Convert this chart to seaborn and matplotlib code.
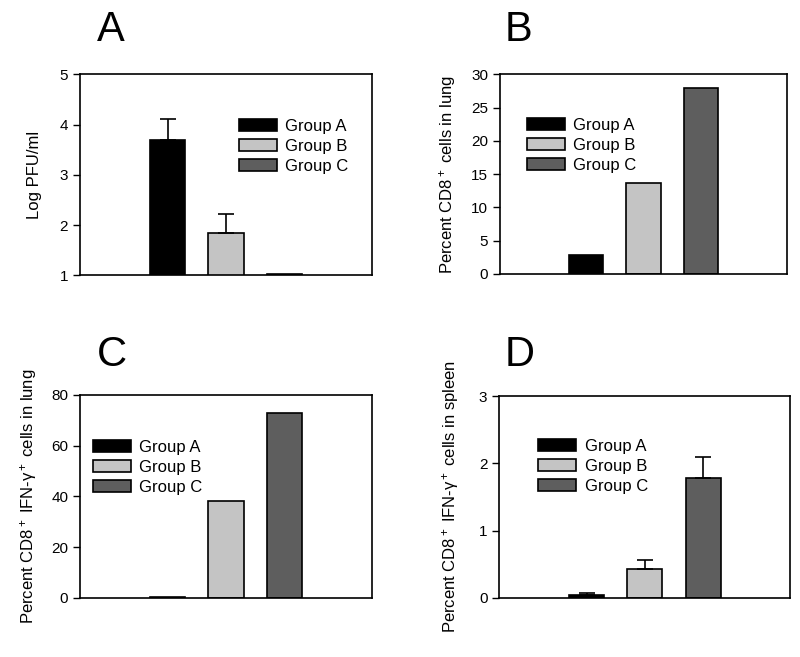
import matplotlib
matplotlib.use("Agg")
import matplotlib.pyplot as plt
import seaborn as sns
import pandas as pd

groups = ["Group A", "Group B", "Group C"]
colors = ["#000000", "#c4c4c4", "#5e5e5e"]

pfu = [3.7, 1.85, 1.02]
pfu_err = [0.4, 0.37, 0.0]

cd8_lung = [2.8, 13.6, 28.0]

ifn_lung = [0.5, 38.0, 73.0]

ifn_spleen = [0.05, 0.43, 1.78]
ifn_spleen_err = [0.02, 0.14, 0.32]

sns.set_style("white")
plt.rcParams['font.family'] = ['Liberation Sans', 'DejaVu Sans']
plt.rcParams['mathtext.fontset'] = 'custom'
plt.rcParams['mathtext.rm'] = 'Liberation Sans'
plt.rcParams['mathtext.it'] = 'Liberation Sans'
for k in ['text.color', 'axes.labelcolor', 'xtick.color', 'ytick.color']:
    plt.rcParams[k] = 'black'

fig = plt.figure(figsize=(8, 6.57), dpi=100)

panels = [
    # letter, axes rect, values, errors, ylim, yticks, ylabel, label x, legend anchor, letter pos
    ("A", [0.100, 0.581, 0.365, 0.306], pfu, pfu_err, (1, 5), [1, 2, 3, 4, 5],
     "Log PFU/ml", -0.13, (0.52, 0.81), (0.138, 0.955)),
    ("B", [0.625, 0.583, 0.359, 0.304], cd8_lung, None, (0, 30), [0, 5, 10, 15, 20, 25, 30],
     "Percent CD8$^+$ cells in lung", -0.145, (0.07, 0.815), (0.648, 0.955)),
    ("C", [0.100, 0.090, 0.365, 0.309], ifn_lung, None, (0, 80), [0, 20, 40, 60, 80],
     "Percent CD8$^+$ IFN-γ$^+$ cells in lung", -0.14, (0.02, 0.81), (0.140, 0.460)),
    ("D", [0.624, 0.090, 0.364, 0.307], ifn_spleen, ifn_spleen_err, (0, 3), [0, 1, 2, 3],
     "Percent CD8$^+$ IFN-γ$^+$ cells in spleen", -0.13, (0.11, 0.82), (0.650, 0.460)),
]

for letter, rect, vals, errs, ylim, yticks, ylabel, lx, anchor, lpos in panels:
    ax = fig.add_axes(rect)
    df = pd.DataFrame({"group": groups, "value": vals})
    sns.barplot(data=df, x="group", y="value", hue="group", palette=colors,
                width=0.6, edgecolor="black", linewidth=1.2, ax=ax, legend=True)
    if errs is not None:
        for i, (v, e) in enumerate(zip(vals, errs)):
            if e > 0:
                ax.errorbar(i, v, yerr=[[0], [e]], fmt="none", ecolor="black",
                            elinewidth=1.2, capsize=6, capthick=1.2)
    ax.set_xlim(-1.5, 3.5)
    ax.set_ylim(*ylim)
    ax.set_yticks(yticks)
    ax.set_xticks([])
    ax.set_xlabel("")
    ax.set_ylabel(ylabel, fontsize=12)
    ax.yaxis.set_label_coords(lx, 0.5)
    ax.tick_params(axis="y", direction="out", length=5, width=1, labelsize=11, left=True)
    for s in ax.spines.values():
        s.set_visible(True)
        s.set_color("black")
        s.set_linewidth(1.2)
    ax.legend(loc="upper left", bbox_to_anchor=anchor, frameon=False, fontsize=12,
              handlelength=2.3, handleheight=0.7, labelspacing=0.3, handletextpad=0.5,
              borderaxespad=0)
    fig.text(lpos[0], lpos[1], letter, fontsize=30, ha="center", va="center")

fig.savefig("out.png", dpi=100)
